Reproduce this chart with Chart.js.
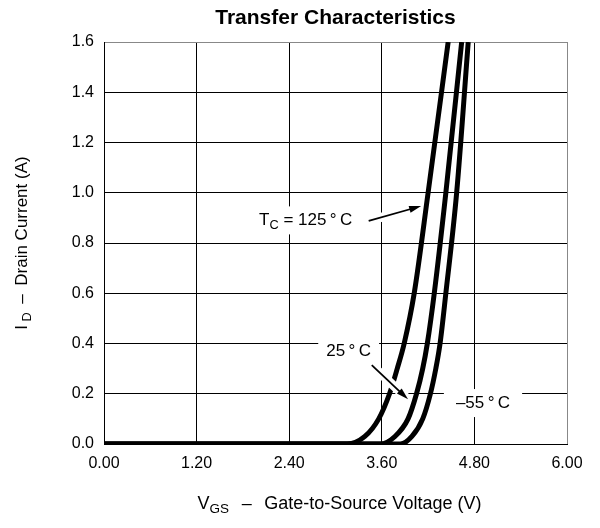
<!DOCTYPE html>
<html>
<head>
<meta charset="utf-8">
<script src="https://cdn.jsdelivr.net/npm/chart.js@4"></script>
<style>
  body { margin: 0; background: #fff; }
  #c { display: block; }
</style>
</head>
<body>
<canvas id="c" width="600" height="528"></canvas>
<script>
// values: gate voltage (V) and drain current (A)
const vgs125 = [0, 3.15, 3.38, 3.56, 3.70, 3.80, 3.89, 4.02, 4.20, 4.46];
const id125  = [0, 0,    0.03, 0.10, 0.20, 0.30, 0.40, 0.60, 1.00, 1.60];
const vgs25  = [0, 3.58, 3.77, 3.94, 4.05, 4.13, 4.19, 4.28, 4.43, 4.635];
const id25   = [0, 0,    0.03, 0.10, 0.20, 0.30, 0.40, 0.60, 1.00, 1.60];
const vgsM55 = [0, 3.84, 3.99, 4.13, 4.23, 4.30, 4.355, 4.43, 4.57, 4.72];
const idM55  = [0, 0,    0.03, 0.10, 0.20, 0.30, 0.40, 0.60, 1.00, 1.60];

const xTicks = [0, 1.2, 2.4, 3.6, 4.8, 6.0];
const yTicks = [0, 0.2, 0.4, 0.6, 0.8, 1.0, 1.2, 1.4, 1.6];

const FONT = '"Liberation Sans", Arial, Helvetica, sans-serif';

function pts(xs, ys) {
  return xs.map((x, i) => ({ x: x, y: ys[i] }));
}

function serie(label, xs, ys) {
  return {
    label: label,
    data: pts(xs, ys),
    borderColor: '#000',
    borderWidth: 5,
    pointRadius: 0,
    fill: false,
    cubicInterpolationMode: 'monotone',
    borderCapStyle: 'butt'
  };
}

// text parts: [text, isSubscript]
function richWidth(ctx, parts, size) {
  let w = 0;
  parts.forEach(p => {
    ctx.font = (p[1] ? size * 0.75 : size) + 'px ' + FONT;
    w += ctx.measureText(p[0]).width;
  });
  return w;
}

function drawRich(ctx, parts, x, y, size, align) {
  const w = richWidth(ctx, parts, size);
  let cx = align === 'center' ? x - w / 2 : x;
  ctx.textBaseline = 'middle';
  ctx.textAlign = 'left';
  ctx.fillStyle = '#000';
  parts.forEach(p => {
    ctx.font = (p[1] ? size * 0.75 : size) + 'px ' + FONT;
    ctx.fillText(p[0], cx, p[1] ? y + size * 0.3 : y);
    cx += ctx.measureText(p[0]).width;
  });
  return w;
}

// labels in data units (V, A)
const labels = [
  { parts: [['T', false], ['C', true], [' = 125\u2009°\u2009C', false]], x: 2.01, y: 0.89, pad: 8 },
  { parts: [['25\u2009°\u2009C', false]], x: 2.88, y: 0.37, pad: 8 },
  { parts: [['\u201355\u2009°\u2009C', false]], x: 4.56, y: 0.163, pad: 12 }
];
const arrows = [
  { x1: 3.43, y1: 0.888, x2: 4.11, y2: 0.947 },
  { x1: 3.47, y1: 0.314, x2: 3.94, y2: 0.178 }
];

const annotate = {
  id: 'annotate',
  beforeDatasetsDraw(chart) {
    const ctx = chart.ctx, xs = chart.scales.x, ys = chart.scales.y;
    ctx.save();
    ctx.fillStyle = '#fff';
    labels.forEach(l => {
      const w = richWidth(ctx, l.parts, 17);
      const px = xs.getPixelForValue(l.x), py = ys.getPixelForValue(l.y);
      ctx.fillRect(px - l.pad, py - 14, w + 2 * l.pad, 28);
    });
    ctx.restore();
  },
  afterDatasetsDraw(chart) {
    const ctx = chart.ctx, xs = chart.scales.x, ys = chart.scales.y;
    ctx.save();
    arrows.forEach(a => {
      const x1 = xs.getPixelForValue(a.x1), y1 = ys.getPixelForValue(a.y1);
      const x2 = xs.getPixelForValue(a.x2), y2 = ys.getPixelForValue(a.y2);
      const ang = Math.atan2(y2 - y1, x2 - x1);
      // white halo
      ctx.strokeStyle = '#fff';
      ctx.lineWidth = 9;
      ctx.beginPath(); ctx.moveTo(x1, y1); ctx.lineTo(x2 - 3 * Math.cos(ang), y2 - 3 * Math.sin(ang)); ctx.stroke();
      ctx.strokeStyle = '#000';
      ctx.lineWidth = 1.8;
      ctx.beginPath(); ctx.moveTo(x1, y1); ctx.lineTo(x2 - 8 * Math.cos(ang), y2 - 8 * Math.sin(ang)); ctx.stroke();
      ctx.fillStyle = '#000';
      ctx.beginPath();
      ctx.moveTo(x2, y2);
      ctx.lineTo(x2 - 12 * Math.cos(ang) + 3.5 * Math.sin(ang), y2 - 12 * Math.sin(ang) - 3.5 * Math.cos(ang));
      ctx.lineTo(x2 - 12 * Math.cos(ang) - 3.5 * Math.sin(ang), y2 - 12 * Math.sin(ang) + 3.5 * Math.cos(ang));
      ctx.closePath();
      ctx.fill();
    });
    labels.forEach(l => {
      drawRich(ctx, l.parts, xs.getPixelForValue(l.x), ys.getPixelForValue(l.y), 17, 'left');
    });
    ctx.restore();
  },
  afterDraw(chart) {
    const ctx = chart.ctx, area = chart.chartArea;
    ctx.save();
    // title
    ctx.font = 'bold 21px ' + FONT;
    ctx.textAlign = 'center';
    ctx.textBaseline = 'middle';
    ctx.fillStyle = '#000';
    ctx.fillText('Transfer Characteristics', (area.left + area.right) / 2, 18);
    // x title
    drawRich(ctx, [['V', false], ['GS', true], ['\u2002\u2009\u2013\u2002\u2009Gate-to-Source Voltage (V)', false]],
      (area.left + area.right) / 2 + 4, 504, 18, 'center');
    // y title
    ctx.translate(22, (area.top + area.bottom) / 2);
    ctx.rotate(-Math.PI / 2);
    drawRich(ctx, [['I', false], [' D', true], ['\u2002\u2013\u2002Drain Current (A)', false]], 0, 0, 17, 'center');
    ctx.restore();
  }
};

new Chart(document.getElementById('c'), {
  type: 'line',
  data: {
    datasets: [
      serie('125°C', vgs125, id125),
      serie('25°C', vgs25, id25),
      serie('-55°C', vgsM55, idM55)
    ]
  },
  options: {
    responsive: false,
    animation: false,
    layout: { padding: { top: 42, right: 33, left: 0, bottom: 0 } },
    plugins: { legend: { display: false }, tooltip: { enabled: false }, title: { display: false } },
    scales: {
      x: {
        type: 'linear',
        min: 0, max: 6,
        afterBuildTicks: s => { s.ticks = xTicks.map(v => ({ value: v })); },
        afterFit: s => { s.height = 84; },
        ticks: {
          padding: 10,
          color: '#000',
          font: { family: FONT, size: 16 },
          callback: v => v.toFixed(2)
        },
        grid: {
          drawTicks: false,
          lineWidth: 1,
          color: c => (c.tick && c.tick.value === 6 ? '#888' : '#000')
        },
        border: { color: '#000', width: 1 }
      },
      y: {
        min: 0, max: 1.6,
        afterBuildTicks: s => { s.ticks = yTicks.map(v => ({ value: v })); },
        afterFit: s => { s.width = 104; },
        ticks: {
          padding: 10,
          color: '#000',
          font: { family: FONT, size: 16 },
          callback: v => v.toFixed(1)
        },
        grid: {
          drawTicks: false,
          lineWidth: 1,
          color: c => (c.tick && c.tick.value === 1.6 ? '#888' : '#000')
        },
        border: { color: '#000', width: 1 }
      }
    }
  },
  plugins: [annotate]
});
</script>
</body>
</html>
